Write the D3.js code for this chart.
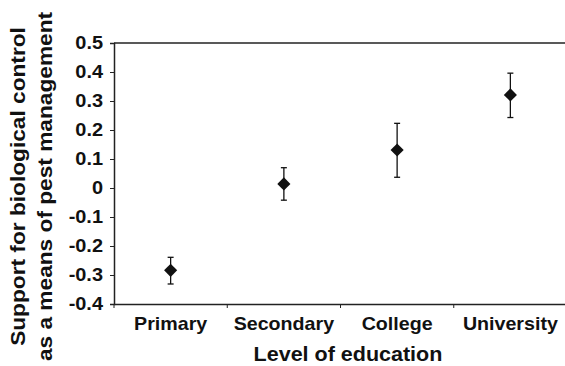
<!DOCTYPE html>
<html>
<head>
<meta charset="utf-8">
<script src="https://cdn.jsdelivr.net/npm/d3@7"></script>
<style>
  body { margin: 0; background: #fff; }
  svg text { font-family: Arial, "Liberation Sans", sans-serif; font-weight: bold; fill: #111; }
</style>
</head>
<body>
<svg width="565" height="366"></svg>
<script>
const categories = ["Primary", "Secondary", "College", "University"];
const means = [-0.284, 0.014, 0.131, 0.321];
const upper = [-0.239, 0.070, 0.223, 0.396];
const lower = [-0.331, -0.042, 0.037, 0.243];
const yTicks = [0.5, 0.4, 0.3, 0.2, 0.1, 0, -0.1, -0.2, -0.3, -0.4];

const svg = d3.select("svg");
const mLeft = 114, mRight = 567, mTop = 43, mBottom = 304;

const x = d3.scaleBand().domain(categories).range([mLeft, mRight]);
const y = d3.scaleLinear().domain([-0.4, 0.5]).range([mBottom, mTop]);

// the original font is a bit wider than Arial, so stretch the text
function stretch(sel, k) {
  sel.each(function() {
    const w = this.getComputedTextLength();
    d3.select(this).attr("textLength", w * k).attr("lengthAdjust", "spacingAndGlyphs");
  });
}

// frame top line
svg.append("line")
  .attr("x1", mLeft).attr("x2", 565)
  .attr("y1", mTop).attr("y2", mTop)
  .attr("stroke", "#222").attr("stroke-width", 1.5);

// y axis
const yAxis = svg.append("g")
  .attr("transform", `translate(${mLeft},0)`)
  .call(d3.axisLeft(y).tickValues(yTicks).tickSize(4).tickPadding(7)
    .tickFormat(d => d === 0 ? "0" : d3.format(".1f")(d).replace("−", "-")));
yAxis.select(".domain").attr("stroke", "#222").attr("stroke-width", 1.5);
yAxis.selectAll(".tick line").attr("stroke", "#222").attr("stroke-width", 1);
yAxis.selectAll("text").style("font-size", "17.5px").attr("fill", "#111").call(stretch, 1.14);

// x axis (ticks at category boundaries)
const xAxis = svg.append("g")
  .attr("transform", `translate(0,${mBottom})`)
  .call(d3.axisBottom(x).tickSize(0).tickPadding(13));
xAxis.select(".domain").attr("stroke", "#222").attr("stroke-width", 1.5);
xAxis.selectAll("text").style("font-size", "17.7px").attr("fill", "#111").call(stretch, 1.11);
xAxis.selectAll(".bound")
  .data(categories)
  .enter().append("line")
  .attr("x1", d => x(d)).attr("x2", d => x(d))
  .attr("y1", 0).attr("y2", 4)
  .attr("stroke", "#222").attr("stroke-width", 1);

// error bars
const pts = categories.map((c, i) => ({c, m: means[i], hi: upper[i], lo: lower[i]}));
const cx = d => x(d.c) + x.bandwidth() / 2;
const eb = svg.append("g").attr("stroke", "#111").attr("stroke-width", 1.3);
eb.selectAll(".v").data(pts).enter().append("line")
  .attr("x1", cx).attr("x2", cx)
  .attr("y1", d => y(d.hi)).attr("y2", d => y(d.lo));
eb.selectAll(".ct").data(pts).enter().append("line")
  .attr("x1", d => cx(d) - 3).attr("x2", d => cx(d) + 3)
  .attr("y1", d => y(d.hi)).attr("y2", d => y(d.hi));
eb.selectAll(".cb").data(pts).enter().append("line")
  .attr("x1", d => cx(d) - 3).attr("x2", d => cx(d) + 3)
  .attr("y1", d => y(d.lo)).attr("y2", d => y(d.lo));

// diamonds
svg.selectAll(".pt").data(pts).enter().append("path")
  .attr("d", d3.symbol(d3.symbolDiamond2, 110))
  .attr("transform", d => `translate(${cx(d)},${y(d.m)})`)
  .attr("fill", "#111");

// axis titles
svg.append("text")
  .attr("x", 348).attr("y", 361)
  .attr("text-anchor", "middle")
  .style("font-size", "20px")
  .text("Level of education")
  .call(stretch, 1.075);

const yl = svg.append("text")
  .attr("transform", "translate(0,186.5) rotate(-90)")
  .attr("text-anchor", "middle")
  .style("font-size", "21px");
yl.append("tspan").attr("x", 0).attr("y", 25).text("Support for biological control");
yl.append("tspan").attr("x", 0).attr("y", 51.5).text("as a means of pest management");
yl.selectAll("tspan").call(stretch, 1.08);
</script>
</body>
</html>
